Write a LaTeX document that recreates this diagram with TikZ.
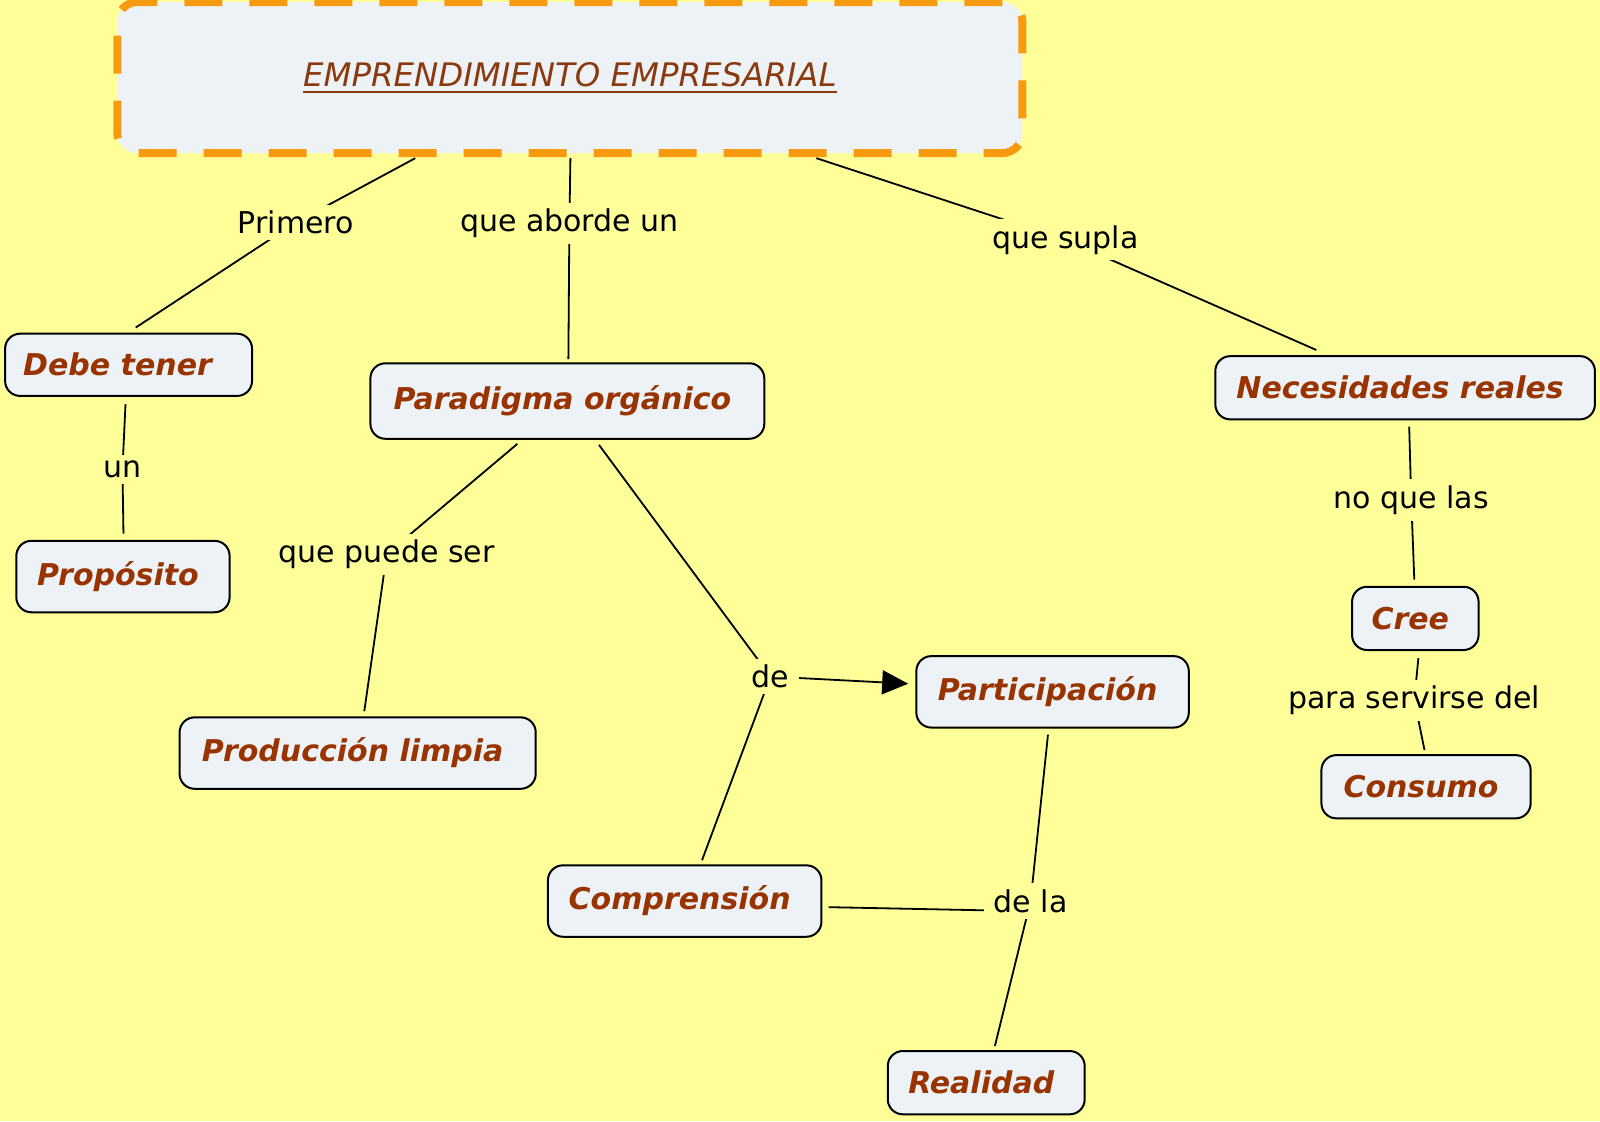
\documentclass[tikz,border=0pt]{standalone}
\usepackage{fontspec}
\setmainfont{DejaVu Sans}
\newfontfamily\titlefont{DejaVu Sans}
\usetikzlibrary{arrows.meta,calc}
\definecolor{bgyellow}{RGB}{255,255,153}
\definecolor{nodefill}{RGB}{236,242,246}
\definecolor{nodetext}{RGB}{153,51,0}
\definecolor{titletext}{RGB}{139,58,15}
\definecolor{dashorange}{RGB}{247,154,16}
\newcommand\thickul[1]{\setbox0\hbox{#1}\rlap{\color{titletext}\rule[-3.5pt]{\wd0}{1pt}}\box0}
\pgfdeclarelayer{background}
\pgfsetlayers{background,main}
\tikzset{
  concept/.style={draw=black, line width=1pt, fill=nodefill, rounded corners=7.5pt,
    outer sep=0pt, inner xsep=4pt, text=nodetext,
    font=\fontsize{15}{18}\selectfont\bfseries\itshape,
    execute at end node={\kern5pt}},
  sz/.style 2 args={minimum width=#1*0.5102pt, minimum height=#2*0.5102pt},
  linklabel/.style={fill=bgyellow, inner xsep=5pt, inner ysep=3pt, text=black,
    font=\fontsize{15}{18}\selectfont},
  conn/.style={line width=0.9pt, draw=black},
  titlebox/.style={draw=dashorange, line width=4pt, dash pattern=on 19pt off 13.5pt,
    fill=nodefill, rounded corners=10pt, outer sep=0pt,
    text=titletext, font=\titlefont\fontsize{16.2}{19}\selectfont\itshape}
}
\begin{document}
\begin{tikzpicture}[x=0.5102pt, y=-0.5102pt]
\useasboundingbox (0,0) rectangle (1568,1099);
\begin{pgfonlayer}{background}
\fill[bgyellow] (0,0) rectangle (1568,1099);
\end{pgfonlayer}

% title
\node[titlebox, sz={887}{148}] (title) at (558.5,76) {\thickul{EMPRENDIMIENTO EMPRESARIAL}};

% concepts
\node[concept, sz={242}{61}] (debe) at (126,357.5) {Debe tener\kern6pt};
\node[concept, sz={209}{70}] (prop) at (120.5,565) {Propósito};
\node[concept, sz={386}{74}] (para) at (556,393) {Paradigma orgánico};
\node[concept, sz={349}{70}] (prod) at (350.5,738) {Producción limpia};
\node[concept, sz={267}{70}] (part) at (1031.5,678) {Participación};
\node[concept, sz={268}{70}] (comp) at (671,883) {Comprensión};
\node[concept, sz={193}{62}] (real) at (966.5,1061) {Realidad};
\node[concept, sz={372}{62}] (nec) at (1377,380) {Necesidades reales};
\node[concept, sz={124}{62}] (cree) at (1387,606) {Cree};
\node[concept, sz={205}{62}] (cons) at (1397.5,771) {Consumo};

% link labels
\node[linklabel] (lprim) at (290,218) {Primero};
\node[linklabel] (labor) at (558,219) {que aborde un};
\node[linklabel] (lsup) at (1044,235) {que supla};
\node[linklabel] (lun) at (120,460) {un};
\node[linklabel] (lpue) at (379,543) {que puede ser};
\node[linklabel] (lde) at (755,663) {de};
\node[linklabel] (ldela) at (1010,883) {de la};
\node[linklabel] (lnoq) at (1383,490) {no que las};
\node[linklabel] (lpara) at (1386,686) {para servirse del};

\begin{pgfonlayer}{background}
\draw[conn] ($(title.south)+(-151.5,5)$) -- (lprim.center) -- ($(debe.north)+(7,-6)$);
\draw[conn] ($(title.south)+(0.5,5)$) -- (labor.center) -- ($(para.north)+(1,-4)$);
\draw[conn] ($(title.south)+(241.5,5)$) -- (lsup.center) -- ($(nec.north)+(-87,-6)$);
\draw[conn] ($(debe.south)+(-3,8)$) -- (lun.center) -- ($(prop.north)+(0.5,-7)$);
\draw[conn] ($(para.south)+(-49,5)$) -- (lpue.center) -- ($(prod.north)+(6.5,-6)$);
\draw[conn] ($(para.south)+(31,6)$) -- (lde.center) -- ($(comp.north)+(17,-5)$);
\draw[conn, -{Triangle[length=13pt,width=12pt]}] (lde.center) -- ($(part.west)+(-8,-8)$);
\draw[conn] ($(part.south)+(-4.5,7)$) -- (ldela.center) -- ($(real.north)+(8.5,-5)$);
\draw[conn] ($(comp.east)+(7,6)$) -- ($(ldela.center)+(0,10)$);
\draw[conn] ($(nec.south)+(4,7)$) -- (lnoq.center) -- ($(cree.north)+(-1,-7)$);
\draw[conn] ($(cree.south)+(3,8)$) -- (lpara.center) -- ($(cons.north)+(-1.5,-5)$);
\end{pgfonlayer}
\end{tikzpicture}
\end{document}
